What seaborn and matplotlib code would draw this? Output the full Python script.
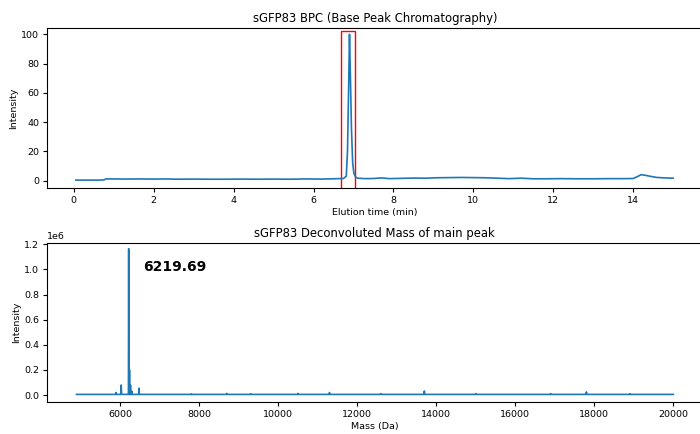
import matplotlib
matplotlib.use("Agg")
import seaborn as sns
from matplotlib import pyplot as plt
from matplotlib.patches import Rectangle

# BPC trace (elution time in min, relative intensity)
bpc_time = [0.05, 0.3, 0.6, 0.75, 0.8, 1.0, 1.3, 1.6, 2.0, 2.3, 2.6, 3.0, 3.4, 3.8, 4.2,
            4.6, 5.0, 5.4, 5.8, 6.2, 6.5, 6.75, 6.82, 6.85, 6.88, 6.9, 6.92, 6.95, 6.98,
            7.01, 7.05, 7.1, 7.3, 7.5, 7.7, 7.9, 8.2, 8.5, 8.8, 9.1, 9.4, 9.7, 10.0,
            10.3, 10.6, 10.9, 11.2, 11.5, 11.8, 12.2, 12.6, 13.0, 13.4, 13.8, 14.0,
            14.1, 14.2, 14.3, 14.45, 14.6, 14.8, 15.0]
bpc_intensity = [0.3, 0.3, 0.3, 0.4, 1.1, 1.1, 1.0, 1.1, 1.0, 1.1, 0.9, 1.0, 0.9, 0.9, 1.0,
                 0.9, 1.0, 0.9, 1.1, 1.0, 1.2, 1.4, 3.0, 20.0, 65.0, 100.0, 75.0, 35.0, 12.0,
                 5.0, 2.5, 1.6, 1.3, 1.4, 1.8, 1.3, 1.5, 1.7, 1.6, 1.9, 2.0, 2.1, 2.0,
                 1.9, 1.6, 1.3, 1.6, 1.2, 1.2, 1.3, 1.2, 1.2, 1.3, 1.3, 1.4,
                 2.6, 4.0, 3.6, 2.8, 2.1, 1.8, 1.6]

# deconvoluted mass spectrum (Da, intensity)
mass = [4900, 5880, 5895, 5900, 5905, 6020, 6030, 6040, 6205, 6213, 6219.69, 6226, 6234,
        6240, 6246, 6258, 6265, 6272, 6294, 6300, 6306, 6472, 6480, 6488, 7800, 7805, 7810,
        8690, 8700, 8710, 9300, 9305, 9310, 10490, 10500, 10510, 11290, 11300, 11310,
        12590, 12600, 12610, 13690, 13700, 13710, 14990, 15000, 15010, 16890, 16900, 16910,
        17790, 17800, 17810, 18900, 18905, 18910, 20000]
mass_intensity = [5000, 5000, 5000, 20000, 5000, 5000, 80000, 5000, 5000, 5000, 1165000, 5000, 5000,
                  200000, 5000, 5000, 80000, 5000, 5000, 30000, 5000, 5000, 55000, 5000, 5000, 9000, 5000,
                  5000, 13000, 5000, 5000, 10000, 5000, 5000, 13000, 5000, 5000, 20000, 5000,
                  5000, 11000, 5000, 5000, 32000, 5000, 5000, 11000, 5000, 5000, 11000, 5000,
                  5000, 25000, 5000, 5000, 10000, 5000, 5000]

main_peak_mass = 6219.69
main_peak_label = "6219.69"
box_start, box_end = 6.7, 7.03

plt.rcParams['font.size'] = 6.8
plt.rcParams['axes.titlesize'] = 8.4
plt.rcParams['axes.titlepad'] = 4.5
plt.rcParams['axes.labelpad'] = 2.0
plt.rcParams['xtick.major.size'] = 2.8
plt.rcParams['ytick.major.size'] = 2.8
plt.rcParams['xtick.major.pad'] = 3.0
plt.rcParams['ytick.major.pad'] = 2.5

fig = plt.figure(figsize=(7.0, 4.34), dpi=100)
ax1 = fig.add_axes([0.0667, 0.5675, 0.9376, 0.3673])
ax2 = fig.add_axes([0.0667, 0.0730, 0.9376, 0.3664])

sns.lineplot(x=bpc_time, y=bpc_intensity, ax=ax1, sort=False, estimator=None, linewidth=1.2)
ax1.add_patch(Rectangle((box_start, -5.5), box_end - box_start, 107.5,
                        fill=False, edgecolor='red', linewidth=1.0))
ax1.set_xlim(-0.68, 15.75)
ax1.set_ylim(-4.9, 104.1)
ax1.set_title("sGFP83 BPC (Base Peak Chromatography)")
ax1.set_xlabel("Elution time (min)")
ax1.set_ylabel("Intensity")

sns.lineplot(x=mass, y=mass_intensity, ax=ax2, sort=False, estimator=None, linewidth=1.2)
ax2.text(main_peak_mass + 360, 1.02e6, main_peak_label, fontsize=10, fontweight='bold', va='center')
ax2.set_xlim(4145, 20750)
ax2.set_ylim(-0.058e6, 1.208e6)
ax2.set_title("sGFP83 Deconvoluted Mass of main peak")
ax2.set_xlabel("Mass (Da)")
ax2.set_ylabel("Intensity")

fig.savefig("out.png", dpi=100)
